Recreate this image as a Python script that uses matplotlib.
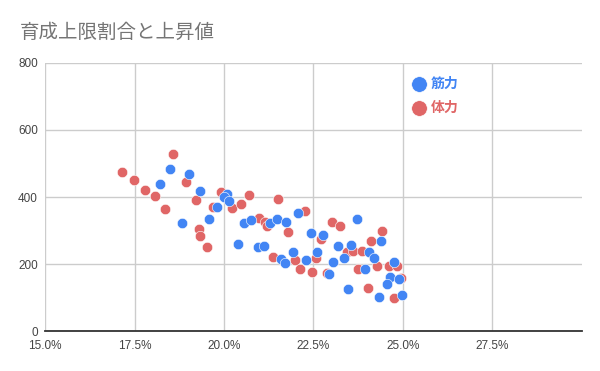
import matplotlib
matplotlib.use("Agg")
import matplotlib.pyplot as plt
from matplotlib.ticker import FuncFormatter

plt.rcParams["font.family"] = ["Liberation Sans", "Noto Sans CJK JP", "DejaVu Sans"]

# 筋力 (blue) : ratio %, value
kin_x = [18.50, 18.22, 19.02, 19.32, 18.82, 19.58, 19.80, 20.07, 20.01, 20.14,
         20.39, 20.55, 20.75, 20.96, 21.12, 21.28, 21.48, 21.72, 22.07, 21.60,
         21.70, 21.92, 22.30, 22.42, 22.76, 22.61, 23.05, 22.93, 23.18, 23.34,
         23.56, 23.71, 23.47, 23.93, 24.05, 24.19, 24.39, 24.75, 24.65, 24.56,
         24.89, 24.33, 24.98]
kin_y = [484, 438, 469, 417, 322, 334, 370, 409, 400, 387,
         259, 322, 331, 251, 253, 324, 334, 325, 354, 216,
         204, 237, 213, 294, 287, 237, 208, 171, 253, 218,
         258, 334, 127, 186, 236, 219, 270, 208, 161, 140,
         155, 102, 109]

# 体力 (red)
tai_x = [17.16, 17.49, 17.78, 18.07, 18.34, 18.58, 18.94, 19.23, 19.29, 19.34,
         19.53, 19.68, 19.93, 20.21, 20.47, 20.71, 20.99, 21.14, 21.20, 21.52,
         21.79, 22.25, 21.37, 21.97, 22.12, 22.46, 22.58, 22.72, 22.89, 23.02,
         23.23, 23.44, 23.59, 23.74, 23.86, 24.11, 24.42, 24.28, 24.61, 24.82,
         24.94, 24.03, 24.75]
tai_y = [474, 451, 422, 403, 366, 529, 444, 391, 305, 284,
         250, 370, 414, 367, 380, 406, 339, 327, 314, 393,
         297, 359, 221, 214, 185, 178, 218, 275, 173, 325,
         314, 238, 241, 186, 241, 269, 300, 195, 195, 194,
         159, 130, 101]

x_ticks = [15.0, 17.5, 20.0, 22.5, 25.0, 27.5]
y_ticks = [0, 200, 400, 600, 800]

BLUE = "#4285F4"
RED = "#E06666"

fig = plt.figure(figsize=(6, 3.71), dpi=100)
ax = fig.add_axes([0.075, 0.1065, 0.895, 0.7245])

ax.scatter(tai_x, tai_y, s=56, color=RED, edgecolor="white", linewidth=0.4,
           label="体力", zorder=3)
ax.scatter(kin_x, kin_y, s=56, color=BLUE, edgecolor="white", linewidth=0.4,
           label="筋力", zorder=4)

ax.set_xlim(15, 30)
ax.set_ylim(0, 800)
ax.set_xticks(x_ticks)
ax.set_yticks(y_ticks)
ax.xaxis.set_major_formatter(FuncFormatter(lambda v, p: f"{v:.1f}%"))
ax.grid(True, color="#cccccc", linewidth=1)
ax.set_axisbelow(True)
for s in ["top", "right", "left"]:
    ax.spines[s].set_visible(False)
ax.spines["bottom"].set_color("#333333")
ax.spines["bottom"].set_linewidth(1.3)
ax.tick_params(length=0, labelsize=8.5, colors="#444444")
ax.tick_params(axis="y", pad=5)
ax.tick_params(axis="x", pad=6)

handles, labels = ax.get_legend_handles_labels()
leg = ax.legend(handles[::-1], labels[::-1], loc="upper left",
                bbox_to_anchor=(0.66, 0.995), frameon=False,
                prop={"family": ["Noto Sans CJK JP"], "weight": "bold", "size": 10},
                markerscale=1.5, handletextpad=0.35, labelspacing=0.75,
                handlelength=1.0)
for t, c in zip(leg.get_texts(), [BLUE, RED]):
    t.set_color(c)

fig.text(0.033, 0.913, "育成上限割合と上昇値", fontsize=14, color="#757575",
         family=["Noto Sans CJK JP"], va="center", ha="left")

fig.savefig("out.png", dpi=100)
